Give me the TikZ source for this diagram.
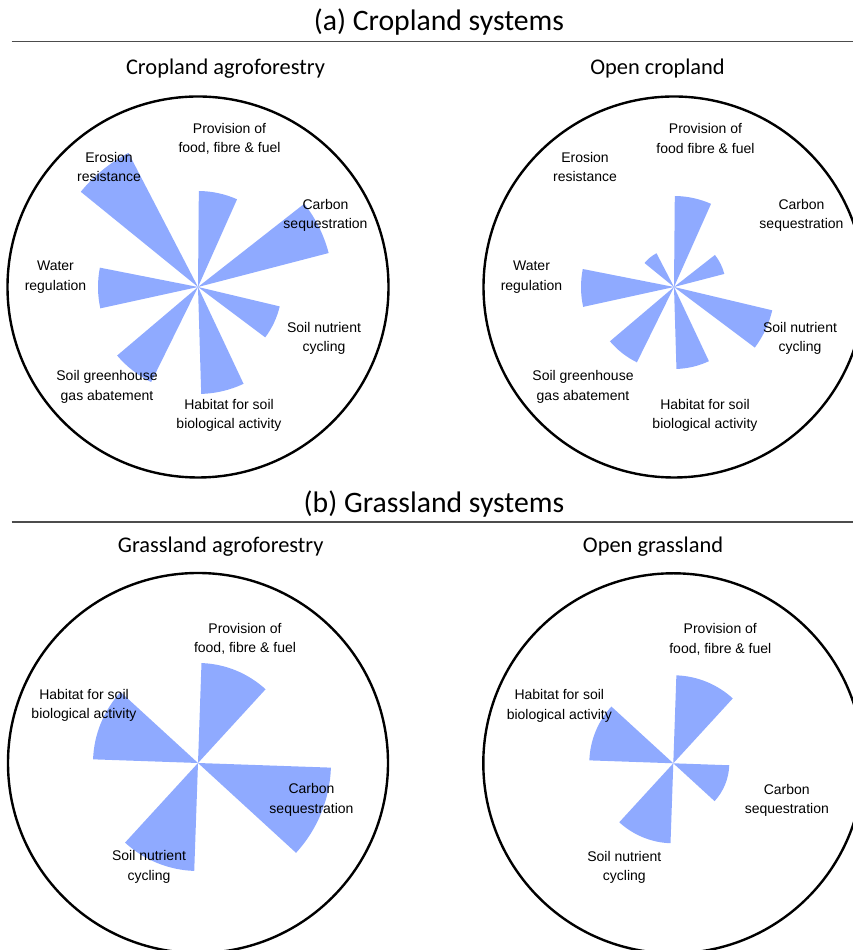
\documentclass[tikz,border=0pt]{standalone}
\usepackage{fontspec}
\setmainfont{Liberation Sans}
\newfontfamily\headfont{Carlito}
\usepackage{tikz}
\usetikzlibrary{positioning}

\definecolor{petalblue}{RGB}{143,170,255}

\tikzset{
  petal/.style={fill=petalblue, draw=none},
  rim/.style={draw=black, line width=2.4pt},
  lbl/.style={align=center, inner sep=0pt, font=\fontsize{14}{19.3}\selectfont},
  heading/.style={anchor=base, inner sep=0pt, font=\headfont\fontsize{29.7}{32}\selectfont},
  subheading/.style={anchor=base, inner sep=0pt, font=\headfont\fontsize{22.4}{26}\selectfont},
  sysrule/.style={draw=black!70, line width=1.4pt}
}

\begin{document}
\begin{tikzpicture}[x=1pt, y=1pt]
    \useasboundingbox (0,0) rectangle (853,950);

    % (a) Cropland systems: heading and rule
    \node[heading] (cropHead) at (439, 919.3) {(a) Cropland systems};
    \coordinate (ruleA1) at (11.7, 908.3);
    \coordinate (ruleA2) at (853, 908.3);
    \draw[sysrule] (ruleA1) -- (ruleA2);
    \node[subheading] (agroCrop) at (225.5, 875) {Cropland agroforestry};
    \node[subheading] (openCrop) at (657.5, 875) {Open cropland};

    % Cropland agroforestry rose (seven services)
    \begin{scope}[shift={(198,663)}]
        \foreach \a/\r in {89.5/96, 38.07/135, -13.36/84, -64.79/107, -116.22/106, -167.65/100, -219.08/151}
            \fill[petal] (0,0) -- (\a:\r) arc[start angle=\a, end angle=\a-23.5, radius=\r] -- cycle;
        \draw[rim] (0,0) circle (190.5);
        \node[lbl] (acProv) at (31.5, 148.5) {Provision of\\food, fibre \& fuel};
        \node[lbl] (acEros) at (-89, 120) {Erosion\\resistance};
        \node[lbl] (acCarb) at (127.5, 71.5) {Carbon\\sequestration};
        \node[lbl] (acWater) at (-142.5, 10) {Water\\regulation};
        \node[lbl] (acNutr) at (126, -51.5) {Soil nutrient\\cycling};
        \node[lbl] (acGhg) at (-91, -100) {Soil greenhouse\\gas abatement};
        \node[lbl] (acHab) at (31, -128.5) {Habitat for soil\\biological activity};
    \end{scope}

    % Open cropland rose
    \begin{scope}[shift={(674,663)}]
        \foreach \a/\r in {89.5/91, 38.07/52, -13.36/101, -64.79/82, -116.22/84, -167.65/93, -219.08/38}
            \fill[petal] (0,0) -- (\a:\r) arc[start angle=\a, end angle=\a-23.5, radius=\r] -- cycle;
        \draw[rim] (0,0) circle (190.5);
        \node[lbl] (ocProv) at (31.5, 148.5) {Provision of\\food fibre \& fuel};
        \node[lbl] (ocEros) at (-89, 120) {Erosion\\resistance};
        \node[lbl] (ocCarb) at (127.5, 71.5) {Carbon\\sequestration};
        \node[lbl] (ocWater) at (-142.5, 10) {Water\\regulation};
        \node[lbl] (ocNutr) at (126, -51.5) {Soil nutrient\\cycling};
        \node[lbl] (ocGhg) at (-91, -100) {Soil greenhouse\\gas abatement};
        \node[lbl] (ocHab) at (31, -128.5) {Habitat for soil\\biological activity};
    \end{scope}

    % (b) Grassland systems: heading and rule
    \node[heading] (grassHead) at (434, 437.6) {(b) Grassland systems};
    \coordinate (ruleB1) at (11.7, 428);
    \coordinate (ruleB2) at (853, 428);
    \draw[sysrule] (ruleB1) -- (ruleB2);
    \node[subheading] (agroGrass) at (220.7, 397.5) {Grassland agroforestry};
    \node[subheading] (openGrass) at (653, 397.5) {Open grassland};

    % Grassland agroforestry rose (four services)
    \begin{scope}[shift={(198,187)}]
        \foreach \a/\r in {88/100, -2/133, -92/108, -182/105}
            \fill[petal] (0,0) -- (\a:\r) arc[start angle=\a, end angle=\a-40.5, radius=\r] -- cycle;
        \draw[rim] (0,0) circle (190);
        \node[lbl] (agProv) at (47, 124) {Provision of\\food, fibre \& fuel};
        \node[lbl] (agHab) at (-114, 57.5) {Habitat for soil\\biological activity};
        \node[lbl] (agCarb) at (113.5, -37) {Carbon\\sequestration};
        \node[lbl] (agNutr) at (-49, -104) {Soil nutrient\\cycling};
    \end{scope}

    % Open grassland rose
    \begin{scope}[shift={(673.3,186.7)}]
        \foreach \a/\r in {88/88, -2/56, -92/80, -182/84}
            \fill[petal] (0,0) -- (\a:\r) arc[start angle=\a, end angle=\a-40.5, radius=\r] -- cycle;
        \draw[rim] (0,0) circle (190);
        \node[lbl] (ogProv) at (47, 124) {Provision of\\food, fibre \& fuel};
        \node[lbl] (ogHab) at (-114, 57.5) {Habitat for soil\\biological activity};
        \node[lbl] (ogCarb) at (113.5, -37) {Carbon\\sequestration};
        \node[lbl] (ogNutr) at (-49, -104) {Soil nutrient\\cycling};
    \end{scope}
\end{tikzpicture}
\end{document}
